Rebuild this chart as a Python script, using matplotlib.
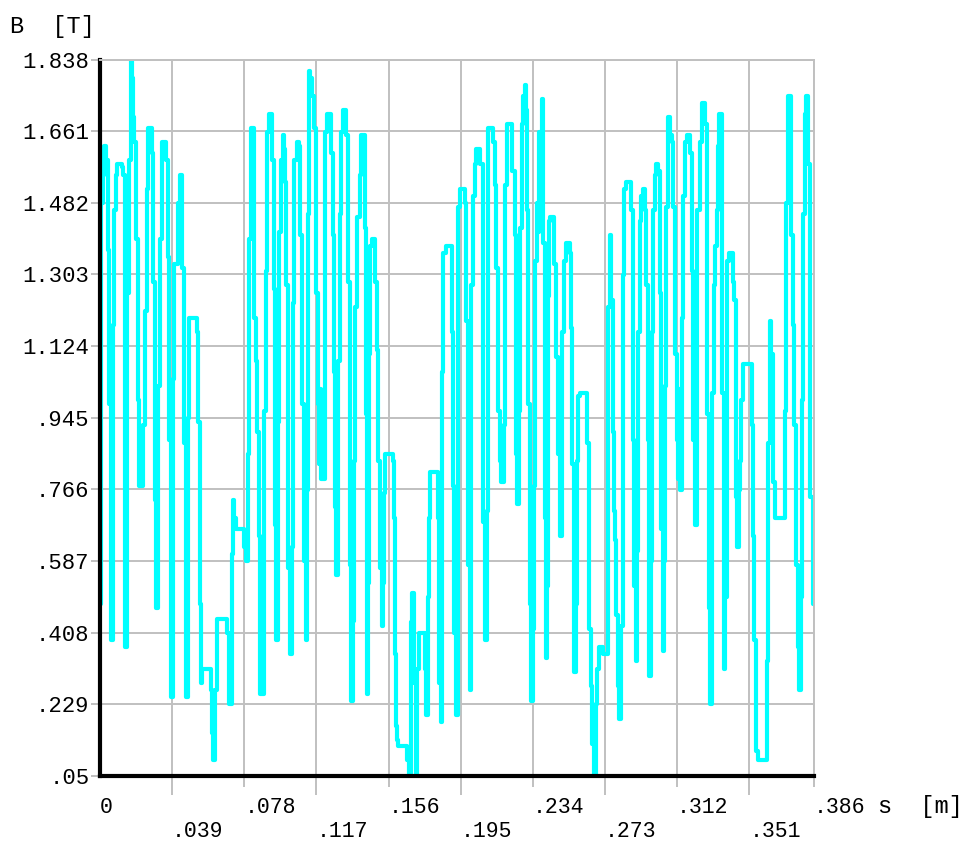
import matplotlib
matplotlib.use("Agg")
import matplotlib.pyplot as plt
import numpy as np

# path coordinate s [m] and flux density B [T]
s_m = [
    0.0000, 0.0003, 0.0005, 0.0014, 0.0022, 0.0032, 0.0041, 0.0049, 0.0059, 0.0068,
    0.0076, 0.0086, 0.0092, 0.0119, 0.0124, 0.0135, 0.0146, 0.0157, 0.0165, 0.0173,
    0.0178, 0.0184, 0.0197, 0.0205, 0.0211, 0.0232, 0.0243, 0.0254, 0.0259, 0.0281,
    0.0289, 0.0300, 0.0305, 0.0314, 0.0324, 0.0335, 0.0359, 0.0365, 0.0373, 0.0384,
    0.0395, 0.0400, 0.0422, 0.0430, 0.0443, 0.0454, 0.0465, 0.0476, 0.0481, 0.0524,
    0.0530, 0.0538, 0.0546, 0.0551, 0.0600, 0.0605, 0.0611, 0.0622, 0.0630, 0.0635,
    0.0689, 0.0695, 0.0700, 0.0711, 0.0716, 0.0719, 0.0727, 0.0735, 0.0778, 0.0787,
    0.0800, 0.0808, 0.0814, 0.0830, 0.0835, 0.0841, 0.0849, 0.0857, 0.0865, 0.0884,
    0.0889, 0.0895, 0.0903, 0.0911, 0.0930, 0.0938, 0.0946, 0.0954, 0.0962, 0.0968,
    0.0978, 0.0987, 0.0995, 0.1000, 0.1006, 0.1016, 0.1027, 0.1038, 0.1043, 0.1051,
    0.1065, 0.1076, 0.1081, 0.1092, 0.1103, 0.1111, 0.1119, 0.1124, 0.1130, 0.1135,
    0.1146, 0.1157, 0.1168, 0.1179, 0.1184, 0.1192, 0.1197, 0.1219, 0.1227, 0.1251,
    0.1260, 0.1265, 0.1273, 0.1278, 0.1289, 0.1297, 0.1303, 0.1314, 0.1330, 0.1341,
    0.1352, 0.1357, 0.1368, 0.1373, 0.1379, 0.1389, 0.1406, 0.1411, 0.1430, 0.1438,
    0.1443, 0.1449, 0.1452, 0.1460, 0.1468, 0.1489, 0.1497, 0.1503, 0.1514, 0.1522,
    0.1530, 0.1535, 0.1541, 0.1584, 0.1589, 0.1595, 0.1600, 0.1606, 0.1611, 0.1660,
    0.1670, 0.1679, 0.1684, 0.1689, 0.1697, 0.1706, 0.1716, 0.1725, 0.1757, 0.1762,
    0.1773, 0.1779, 0.1784, 0.1827, 0.1833, 0.1841, 0.1849, 0.1857, 0.1870, 0.1903,
    0.1908, 0.1916, 0.1922, 0.1933, 0.1938, 0.1946, 0.1973, 0.1981, 0.1989, 0.1998,
    0.2006, 0.2014, 0.2025, 0.2035, 0.2057, 0.2068, 0.2073, 0.2079, 0.2092, 0.2095,
    0.2100, 0.2127, 0.2138, 0.2143, 0.2149, 0.2154, 0.2162, 0.2168, 0.2184, 0.2187,
    0.2192, 0.2200, 0.2230, 0.2241, 0.2249, 0.2254, 0.2265, 0.2271, 0.2279, 0.2287,
    0.2295, 0.2303, 0.2308, 0.2316, 0.2325, 0.2330, 0.2341, 0.2346, 0.2352, 0.2362,
    0.2368, 0.2376, 0.2387, 0.2397, 0.2406, 0.2411, 0.2416, 0.2422, 0.2427, 0.2433,
    0.2457, 0.2465, 0.2476, 0.2487, 0.2498, 0.2511, 0.2519, 0.2541, 0.2546, 0.2552,
    0.2560, 0.2565, 0.2573, 0.2579, 0.2584, 0.2595, 0.2633, 0.2641, 0.2646, 0.2652,
    0.2657, 0.2662, 0.2671, 0.2684, 0.2689, 0.2695, 0.2719, 0.2744, 0.2746, 0.2749,
    0.2757, 0.2765, 0.2771, 0.2779, 0.2784, 0.2792, 0.2800, 0.2808, 0.2819, 0.2825,
    0.2830, 0.2835, 0.2844, 0.2871, 0.2879, 0.2884, 0.2889, 0.2895, 0.2903, 0.2908,
    0.2917, 0.2925, 0.2933, 0.2944, 0.2952, 0.2960, 0.2968, 0.2979, 0.2984, 0.2990,
    0.3000, 0.3008, 0.3019, 0.3027, 0.3035, 0.3044, 0.3049, 0.3054, 0.3060, 0.3068,
    0.3081, 0.3092, 0.3100, 0.3108, 0.3117, 0.3125, 0.3130, 0.3138, 0.3149, 0.3154,
    0.3165, 0.3173, 0.3192, 0.3203, 0.3208, 0.3214, 0.3225, 0.3230, 0.3241, 0.3252,
    0.3273, 0.3279, 0.3284, 0.3290, 0.3298, 0.3306, 0.3311, 0.3317, 0.3327, 0.3336,
    0.3341, 0.3349, 0.3360, 0.3365, 0.3373, 0.3381, 0.3387, 0.3392, 0.3398, 0.3422,
    0.3430, 0.3436, 0.3441, 0.3446, 0.3454, 0.3460, 0.3468, 0.3476, 0.3525, 0.3530,
    0.3538, 0.3544, 0.3549, 0.3557, 0.3606, 0.3614, 0.3622, 0.3630, 0.3641, 0.3649,
    0.3703, 0.3711, 0.3719, 0.3733, 0.3738, 0.3744, 0.3754, 0.3763, 0.3771, 0.3779,
    0.3790, 0.3795, 0.3800, 0.3809, 0.3817, 0.3830, 0.3836, 0.3841, 0.3852, 0.3860,
]
b_t = [
    0.479, 1.302, 1.480, 1.552, 1.623, 1.588, 1.364, 0.980, 0.390, 1.176,
    1.463, 1.552, 1.579, 1.570, 1.552, 0.372, 1.257, 1.588, 1.838, 1.793,
    1.695, 1.632, 1.391, 0.989, 0.774, 0.926, 1.212, 1.516, 1.668, 1.606,
    1.284, 0.738, 0.470, 1.024, 1.391, 1.632, 1.588, 1.346, 0.890, 0.247,
    1.042, 1.328, 1.480, 1.552, 1.319, 0.881, 0.247, 0.944, 1.194, 1.159,
    0.935, 0.479, 0.282, 0.318, 0.265, 0.157, 0.091, 0.265, 0.381, 0.443,
    0.408, 0.256, 0.229, 0.354, 0.604, 0.738, 0.694, 0.667, 0.622, 0.586,
    0.855, 1.391, 1.668, 1.579, 1.194, 1.087, 0.908, 0.649, 0.256, 0.497,
    0.962, 1.311, 1.659, 1.704, 1.588, 1.266, 0.676, 0.390, 0.935, 1.409,
    1.588, 1.650, 1.615, 1.534, 1.275, 0.569, 0.354, 0.622, 1.230, 1.588,
    1.632, 1.623, 1.400, 0.980, 0.586, 0.390, 0.765, 1.454, 1.811, 1.793,
    1.749, 1.668, 1.257, 0.980, 0.828, 1.016, 0.792, 1.659, 1.704, 1.606,
    1.400, 1.060, 0.721, 0.551, 1.087, 1.454, 1.659, 1.713, 1.650, 1.284,
    0.577, 0.238, 0.438, 0.837, 1.221, 1.445, 1.552, 1.650, 1.418, 0.953,
    0.256, 0.533, 1.105, 1.373, 1.391, 1.284, 1.114, 0.837, 0.569, 0.425,
    0.533, 0.756, 0.855, 0.837, 0.694, 0.354, 0.175, 0.139, 0.125, 0.091,
    0.050, 0.282, 0.434, 0.506, 0.282, 0.050, 0.318, 0.408, 0.318, 0.202,
    0.497, 0.694, 0.810, 0.694, 0.282, 0.184, 1.060, 1.355, 1.373, 1.159,
    0.774, 0.408, 0.202, 1.194, 1.471, 1.516, 1.480, 1.185, 0.577, 0.265,
    1.275, 1.498, 1.579, 1.615, 1.579, 1.382, 0.685, 0.390, 0.712, 1.382,
    1.668, 1.632, 1.525, 1.319, 1.123, 0.962, 0.837, 0.783, 0.926, 1.221,
    1.525, 1.677, 1.561, 1.400, 0.855, 0.729, 0.962, 1.418, 1.677, 1.749,
    1.775, 1.713, 1.463, 0.980, 0.479, 0.238, 0.417, 0.774, 1.337, 1.480,
    1.409, 1.659, 1.740, 1.382, 0.694, 0.345, 0.524, 1.248, 1.436, 1.445,
    1.328, 1.096, 0.855, 0.649, 1.159, 1.337, 1.382, 1.355, 1.168, 0.828,
    0.479, 0.309, 0.479, 0.837, 0.998, 1.007, 0.881, 0.622, 0.417, 0.372,
    0.274, 0.130, 0.055, 0.229, 0.318, 0.372, 0.354, 0.515, 0.846, 1.221,
    1.400, 1.239, 0.908, 0.712, 0.640, 0.452, 0.274, 0.193, 0.425, 0.855,
    1.302, 1.516, 1.534, 1.463, 1.275, 0.890, 0.524, 0.336, 0.613, 1.159,
    1.436, 1.498, 1.516, 1.463, 1.275, 0.890, 0.300, 0.586, 1.159, 1.463,
    1.552, 1.579, 1.561, 1.257, 0.667, 0.363, 0.586, 1.024, 1.471, 1.695,
    1.650, 1.632, 1.471, 1.105, 0.890, 0.792, 1.016, 0.765, 1.194, 1.498,
    1.632, 1.650, 1.606, 1.311, 0.890, 0.676, 0.837, 1.463, 1.632, 1.731,
    1.677, 1.400, 0.953, 0.470, 0.229, 0.497, 1.007, 1.275, 1.373, 1.463,
    1.623, 1.704, 1.471, 1.007, 0.318, 0.497, 1.078, 1.337, 1.355, 1.284,
    1.239, 0.998, 0.747, 0.622, 0.765, 0.837, 0.989, 1.078, 0.926, 0.649,
    0.390, 0.202, 0.113, 0.091, 0.336, 0.881, 1.185, 1.105, 0.783, 0.694,
    0.962, 1.480, 1.749, 1.659, 1.400, 1.176, 0.926, 0.577, 0.372, 0.265,
    0.497, 0.989, 1.454, 1.704, 1.749, 1.579, 1.275, 0.747, 0.479, 0.479,
]

x_major = [0, 0.078, 0.156, 0.234, 0.312, 0.386]
x_major_labels = ["0", ".078", ".156", ".234", ".312", ".386"]
x_minor = [0.039, 0.117, 0.195, 0.273, 0.351]
x_minor_labels = [".039", ".117", ".195", ".273", ".351"]
y_ticks = [0.05, 0.229, 0.408, 0.587, 0.766, 0.945, 1.124, 1.303, 1.482, 1.661, 1.838]
y_labels = [".05", ".229", ".408", ".587", ".766", ".945", "1.124", "1.303", "1.482", "1.661", "1.838"]

mono = "Liberation Mono"
grey = "#c0c0c0"

fig = plt.figure(figsize=(9.74, 8.43), dpi=100)
ax = fig.add_axes([100 / 974, 67 / 843, 714 / 974, 716 / 843])

ax.plot(s_m, b_t, color="#00ffff", lw=3.0, drawstyle="steps-post", zorder=2)

ax.set_xlim(0, 0.386)
ax.set_ylim(0.05, 1.838)

ax.set_xticks(x_major)
ax.set_xticklabels(x_major_labels)
ax.set_xticks(x_minor, minor=True)
ax.set_xticklabels(x_minor_labels, minor=True)
ax.set_yticks(y_ticks)
ax.set_yticklabels(y_labels)

ax.set_axisbelow(True)
ax.grid(True, which="both", color=grey, lw=1.4)

ax.tick_params(axis="x", which="major", direction="out", length=8, width=1.4,
               color=grey, pad=7, labelsize=15.5)
ax.tick_params(axis="x", which="minor", direction="out", length=13.5, width=1.4,
               color=grey, pad=19, labelsize=15.5)
ax.tick_params(axis="y", direction="out", length=6.5, width=1.4, color=grey,
               pad=1, labelsize=16)
ax.xaxis.get_major_ticks()[0].tick1line.set_visible(False)

for lab in ax.get_xticklabels(which="both"):
    lab.set_horizontalalignment("left")
    lab.set_fontfamily(mono)
for lab in ax.get_yticklabels():
    lab.set_fontfamily(mono)

ax.spines["left"].set_color("black")
ax.spines["left"].set_linewidth(3.0)
ax.spines["bottom"].set_color("black")
ax.spines["bottom"].set_linewidth(3.0)
ax.spines["top"].set_color(grey)
ax.spines["top"].set_linewidth(1.4)
ax.spines["right"].set_color(grey)
ax.spines["right"].set_linewidth(1.4)

fig.text(10 / 974, 1 - 27 / 843, "B  [T]", family=mono, fontsize=17,
         ha="left", va="center")
fig.text(878 / 974, 1 - 806 / 843, "s  [m]", family=mono, fontsize=17,
         ha="left", va="center")

fig.savefig("out.png", dpi=100, facecolor="white")
